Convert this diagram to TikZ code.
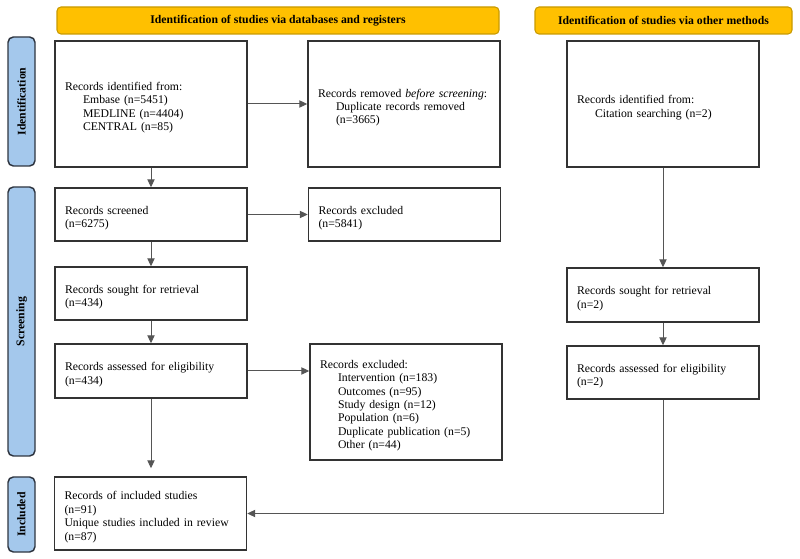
\documentclass[tikz,border=0pt]{standalone}
\usepackage{fontspec}
\setmainfont{Liberation Serif}
\usetikzlibrary{arrows.meta}
\definecolor{hdr}{HTML}{FFC000}
\definecolor{hdrb}{HTML}{C99A00}
\definecolor{side}{HTML}{A4C8EC}
\definecolor{sideb}{HTML}{2E3540}
\definecolor{ln}{HTML}{555555}
\newcommand{\ind}{\hspace*{13.5pt}}
\begin{document}
\begin{tikzpicture}[x=0.75pt,y=-0.75pt,
  font=\fontsize{8.8}{10.1}\selectfont,
  box/.style={draw=black!80, line width=1.1pt, fill=white, text width=129pt,
    inner xsep=7.5pt, inner ysep=0pt, align=left,
    execute at begin node={\rule{0pt}{11.6pt}}},
  hdrbox/.style={draw=hdrb, fill=hdr, rounded corners=3pt, line width=0.8pt,
    minimum height=20.25pt, inner sep=0pt, font=\fontsize{8.8}{10.1}\selectfont\bfseries},
  sidebox/.style={draw=sideb, fill=side, rounded corners=4pt, line width=1.1pt,
    rotate=90, minimum height=20.25pt, inner sep=0pt,
    font=\fontsize{8.8}{10.1}\selectfont\bfseries},
  conn/.style={draw=ln, line width=0.75pt, -{Triangle[length=6pt,width=5.5pt]}}
]
\useasboundingbox (0,0) rectangle (800,559);

% headers
\node[hdrbox, minimum width=331.5pt] (h1) at (278,20.5) {Identification of studies via databases and registers};
\node[hdrbox, minimum width=192.75pt] (h2) at (663.5,20.5) {Identification of studies via other methods};

% side labels
\node[sidebox, minimum width=96.75pt] (s1) at (21.5,101.5) {Identification};
\node[sidebox, minimum width=201.75pt] (s2) at (21.5,321.5) {Screening};
\node[sidebox, minimum width=56.25pt] (s3) at (21.5,514.5) {Included};

% boxes
\node[box, minimum height=94.5pt] (A) at (151,104) {Records identified from:\\
\ind Embase (n=5451)\\
\ind MEDLINE (n=4404)\\
\ind CENTRAL (n=85)};
\node[box, minimum height=94.5pt] (B) at (404,104) {Records removed \textit{before screening}:\\
\ind Duplicate records removed\\
\ind (n=3665)};
\node[box, minimum height=94.5pt] (C) at (663,104) {Records identified from:\\
\ind Citation searching (n=2)};

\node[box, minimum height=39.75pt] (scr) at (151,214.5) {Records screened\\(n=6275)};
\node[box, minimum height=39.75pt] (ex1) at (404.5,214.5) {Records excluded\\(n=5841)};

\node[box, minimum height=39.75pt] (sou) at (151,293.5) {Records sought for retrieval\\(n=434)};
\node[box, minimum height=40.5pt] (sou2) at (663,295) {Records sought for retrieval\\(n=2)};

\node[box, minimum height=40.5pt] (ass) at (151,371) {Records assessed for eligibility\\(n=434)};
\node[box, minimum height=87pt] (ex2) at (406,402) {Records excluded:\\
\ind Intervention (n=183)\\
\ind Outcomes (n=95)\\
\ind Study design (n=12)\\
\ind Population (n=6)\\
\ind Duplicate publication (n=5)\\
\ind Other (n=44)};
\node[box, minimum height=39.75pt] (ass2) at (663,372.5) {Records assessed for eligibility\\(n=2)};

\node[box, minimum height=54.75pt] (inc) at (150.5,513.5) {Records of included studies\\(n=91)\\Unique studies included in review\\(n=87)};

% connectors
\draw[conn] (A) -- (B);
\draw[conn] (A) -- (scr);
\draw[conn] (scr) -- (ex1);
\draw[conn] (scr) -- (sou);
\draw[conn] (sou) -- (ass);
\draw[conn] (ass.east) -- (ass.east -| ex2.west);
\draw[conn, shorten >=6pt] (ass.south) -- (ass.south |- inc.north);
\draw[conn] (C) -- (sou2);
\draw[conn] (sou2) -- (ass2);
\draw[conn] (ass2.south) |- (inc.east);
\end{tikzpicture}
\end{document}
